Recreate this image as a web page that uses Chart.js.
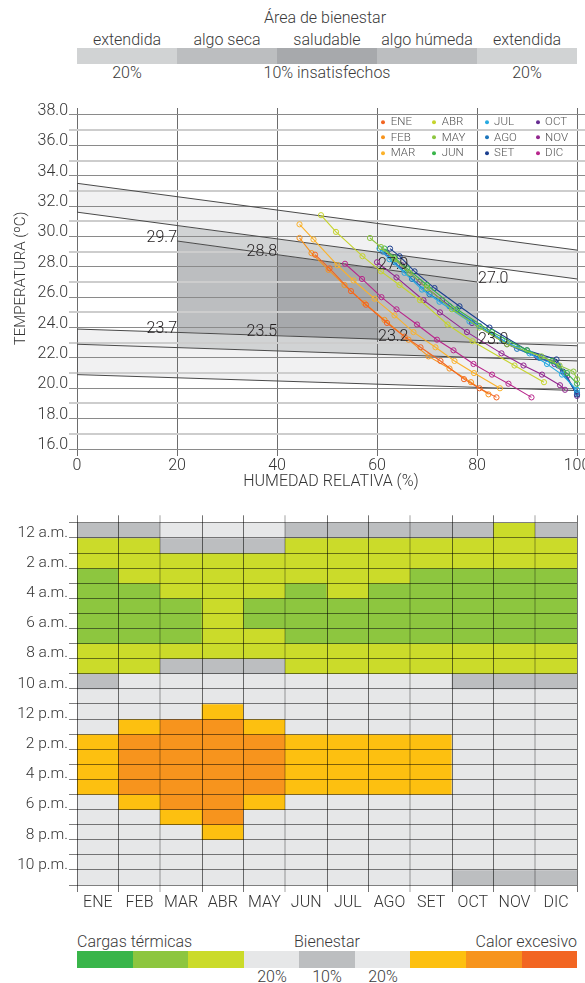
<!DOCTYPE html>
<html lang="es">
<head>
<meta charset="utf-8">
<title>Área de bienestar</title>
<script src="https://cdn.jsdelivr.net/npm/chart.js@4.4.1/dist/chart.umd.min.js"></script>
<style>
  html, body { margin:0; padding:0; background:#fff; }
  body { width:585px; height:983px; overflow:hidden; position:relative;
         font-family: Roboto, 'Liberation Sans', Arial, sans-serif; font-weight:300; color:#3a3a3a; }
  .t { position:absolute; white-space:nowrap; line-height:1; transform:translate(-50%,-50%); font-size:16px; }
  .tl { transform:translate(0,-50%); }
  .tr { transform:translate(-100%,-50%); }
  .bar { position:absolute; display:flex; }
  .bar div { flex:1; height:100%; }
  canvas { position:absolute; left:0; }
  .lg { position:absolute; font-size:11.5px; color:#555; line-height:1; transform:translateY(-50%); white-space:nowrap; }
  .lg i { position:absolute; left:-9.4px; top:50%; width:4px; height:4px; margin-top:-2px; border-radius:50%; }
</style>
</head>
<body>
<!-- Header legend -->
<div class="t" style="left:325px;top:18px">Área de bienestar</div>
<div class="t" style="left:127px;top:40px">extendida</div>
<div class="t" style="left:227px;top:40px">algo seca</div>
<div class="t" style="left:327px;top:40px">saludable</div>
<div class="t" style="left:427px;top:40px">algo húmeda</div>
<div class="t" style="left:527px;top:40px">extendida</div>
<div class="bar" style="left:77px;top:48px;width:500px;height:16px">
  <div style="background:#d1d3d4"></div><div style="background:#bcbec0"></div><div style="background:#a7a9ac"></div><div style="background:#bcbec0"></div><div style="background:#d1d3d4"></div>
</div>
<div class="t" style="left:127px;top:73px">20%</div>
<div class="t" style="left:327px;top:73px">10% insatisfechos</div>
<div class="t" style="left:527px;top:73px">20%</div>

<canvas id="c1" width="600" height="400" style="top:95px"></canvas>
<canvas id="c2" width="585" height="410" style="top:505px"></canvas>

<!-- Bottom legend -->
<div class="t tl" style="left:77px;top:942px">Cargas térmicas</div>
<div class="t" style="left:327px;top:942px">Bienestar</div>
<div class="t tr" style="left:577px;top:942px">Calor excesivo</div>
<div class="bar" style="left:77px;top:951px;width:500px;height:17px">
  <div style="background:#39b54a"></div><div style="background:#8dc63f"></div><div style="background:#cbdb2a"></div><div style="background:#e6e7e8"></div><div style="background:#bcbec0"></div><div style="background:#e6e7e8"></div><div style="background:#fdc010"></div><div style="background:#f7941d"></div><div style="background:#f26522"></div>
</div>
<div class="t" style="left:272px;top:977px">20%</div>
<div class="t" style="left:327px;top:977px">10%</div>
<div class="t" style="left:383px;top:977px">20%</div>

<script>
const FONT = "Roboto, 'Liberation Sans', Arial, sans-serif";

// ---------- shared ----------
const monthNames = ['ENE','FEB','MAR','ABR','MAY','JUN','JUL','AGO','SET','OCT','NOV','DIC'];
const monthColors = ['#f26522','#f7941d','#fbb22a','#c6d42c','#8dc63f','#39b54a','#27aae1','#1c75bc','#1b3f8f','#662d91','#92278f','#b8268c'];

// ---------- chart 1: humidity vs temperature ----------
const humTicks = [0, 20, 40, 60, 80, 100];
const tempTicks = [16,17,18,19,20,21,22,23,24,25,26,27,28,29,30,31,32,33,34,35,36,37,38];

// comfort zone boundaries (RH %, ºC)
const bandX = [0, 100];
const upperBandTop = [33.5, 29.1];
const upperBandBottom = [31.6, 27.2];
const lowerBandA = [23.9, 22.8];
const lowerBandB = [22.9, 21.8];
const lowerBandC = [20.9, 19.85];
const zoneX = [20, 40, 60, 80];
const zoneTop = [29.7, 28.8, 27.9, 27.0];
const zoneBottom = [23.7, 23.5, 23.2, 23.0];
const upperMidEdge = [30.7, 28.1];   // upper band bottom at RH 20 / 80
const lowerMidEdge = [22.7, 22.0];   // lower band B at RH 20 / 80

// hourly (RH %, ºC) points per month
const serENE = [[47.6,28.8],[50.5,27.9],[54.8,26.4],[57.8,25.5],[62,24.3],[65.5,23.4],[68.7,22.7],[72.7,21.8],[77.4,20.6],[80.5,20.0],[83.9,19.4]];
const serFEB = [[44.5,29.9],[46.9,28.9],[50.3,27.8],[53.5,26.8],[57.5,25.6],[61.5,24.5],[66.3,23.2],[70.3,22.1],[74.5,21.3],[78.8,20.4],[82.3,19.6]];
const serMAR = [[44.5,30.8],[47.3,29.8],[52.1,28.1],[55.3,27.1],[59.5,25.9],[63.5,24.8],[67.3,23.7],[71.7,22.7],[75.5,21.8],[79.4,21.0],[84.6,20.0]];
const serABR = [[48.8,31.4],[51.8,30.3],[57.1,28.7],[60.8,27.7],[64.5,26.8],[68.6,25.8],[74.1,24.2],[79.1,23.1],[87.5,21.5],[93.4,20.4]];
const serMAY = [[58.6,29.9],[60.8,29.3],[63.5,28.5],[66.5,27.6],[70,26.6],[75,25.2],[80.5,24.0],[86,22.9],[92.9,22.1],[96.5,21.5],[99.3,21.1],[100,20.6]];
const serJUN = [[61.5,29.2],[63.5,28.6],[66,27.9],[70,26.8],[76,25.2],[83,23.7],[90,22.5],[95,21.8],[98,21.0],[100,20.3]];
const serJUL = [[60.5,29.2],[62.5,28.5],[65.5,27.6],[69,26.5],[72.5,25.7],[78.5,24.4],[85,23.2],[90.5,22.3],[94,21.6],[97,20.9],[100,19.9]];
const serAGO = [[61.2,29.0],[63.5,28.3],[67,27.2],[70.5,26.2],[74.5,25.4],[80.5,24.1],[88,22.6],[92.5,22.0],[96.2,21.5],[100,19.7]];
const serSET = [[62.6,29.2],[64.5,28.7],[67.5,27.7],[71.5,26.6],[76.5,25.4],[82.5,24.0],[90,22.5],[95.9,21.9],[97.2,21.1],[100,19.6]];
const serOCT = [[62,28.9],[65,28.1],[68.5,27.0],[73,25.8],[79,24.3],[86,22.9],[92,22.1],[95.5,21.6],[98,20.8],[100,19.5]];
const serNOV = [[60,28.3],[63.9,27.3],[69.3,25.8],[72.6,25.0],[78,23.7],[84.9,22.3],[89.3,21.5],[93,20.9],[96.6,20.2],[97.6,19.9]];
const serDIC = [[53.6,28.2],[57,27.2],[60.9,26.0],[63.9,25.2],[68,24.2],[72,23.2],[75.3,22.5],[79.3,21.6],[83,20.9],[86.3,20.3],[90.9,19.4]];
const monthSeries = [serENE,serFEB,serMAR,serABR,serMAY,serJUN,serJUL,serAGO,serSET,serOCT,serNOV,serDIC];

// ---------- chart 2: hourly comfort per month ----------
// 0 dark green, 1 green, 2 lime, 3 comfort 20%, 4 comfort 10%, 5 yellow, 6 orange, 7 red-orange
const heatENE = [4,2,2,1,1,1,1,1,2,2,4,3, 3,3,5,5,5,5,3,3,3,3,3,3];
const heatFEB = [4,2,2,2,1,1,1,1,2,2,3,3, 3,5,6,6,6,6,5,3,3,3,3,3];
const heatMAR = [3,4,2,2,2,1,1,1,2,4,3,3, 3,6,6,6,6,6,6,5,3,3,3,3];
const heatABR = [3,4,2,2,2,2,2,2,2,4,3,3, 5,6,6,6,6,6,6,6,5,3,3,3];
const heatMAY = [3,4,2,2,2,1,1,2,2,4,3,3, 3,5,6,6,6,6,5,3,3,3,3,3];
const heatJUN = [4,2,2,2,1,1,1,1,2,2,3,3, 3,3,5,5,5,5,3,3,3,3,3,3];
const heatJUL = [4,2,2,2,2,1,1,1,2,2,3,3, 3,3,5,5,5,5,3,3,3,3,3,3];
const heatAGO = [4,2,2,2,1,1,1,1,2,2,3,3, 3,3,5,5,5,5,3,3,3,3,3,3];
const heatSET = [4,2,2,1,1,1,1,1,2,2,3,3, 3,3,5,5,5,5,3,3,3,3,3,3];
const heatOCT = [4,2,2,1,1,1,1,1,2,2,4,3, 3,3,3,3,3,3,3,3,3,3,3,4];
const heatNOV = [2,2,2,1,1,1,1,1,2,2,4,3, 3,3,3,3,3,3,3,3,3,3,3,4];
const heatDIC = [4,2,2,1,1,1,1,1,2,2,4,3, 3,3,3,3,3,3,3,3,3,3,3,4];
const heatByMonth = [heatENE,heatFEB,heatMAR,heatABR,heatMAY,heatJUN,heatJUL,heatAGO,heatSET,heatOCT,heatNOV,heatDIC];
const hourBoundaries = [0,1,2,3,4,5,6,7,8,9,10,11,12,13,14,15,16,17,18,19,20,21,22,23,24];
const hourLabels = ['12 a.m.','2 a.m.','4 a.m.','6 a.m.','8 a.m.','10 a.m.','12 p.m.','2 p.m.','4 p.m.','6 p.m.','8 p.m.','10 p.m.'];
const catColors = ['#39b54a','#8dc63f','#cbdb2a','#e6e7e8','#bcbec0','#fdc010','#f7941d','#f26522'];

// ---------- in-chart legend (HTML) ----------
const legendCols = [390.7, 441.7, 494.1, 545.1];
const legendRows = [122.3, 137.7, 153];
monthNames.forEach((m, i) => {
  const d = document.createElement('div');
  d.className = 'lg';
  d.style.left = legendCols[Math.floor(i / 3)] + 'px';
  d.style.top = legendRows[i % 3] + 'px';
  d.innerHTML = '<i style="background:' + monthColors[i] + '"></i>' + m;
  document.body.appendChild(d);
});

// ---------- build chart 1 ----------
function pts(xs, ts) { return xs.map((x, i) => ({x: x, y: ts[i]})); }
function zonePoly(xs, ts, color) {
  return { data: pts(xs, ts), showLine: true, fill: 'shape', backgroundColor: color,
           borderColor: 'rgba(0,0,0,0)', borderWidth: 0, pointRadius: 0, order: 20 };
}
function zoneLine(xs, ts) {
  return { data: pts(xs, ts), showLine: true, fill: false, borderColor: '#4a4a4a',
           borderWidth: 1, pointRadius: 0, order: 10 };
}
const LIGHT = '#f1f1f2', MED = '#d1d3d4', BOX = '#bcbec0', CORE = '#a7a9ac';
const zoneDatasets = [
  zonePoly([0,100,100,0], [upperBandTop[0], upperBandTop[1], upperBandBottom[1], upperBandBottom[0]], LIGHT),
  zonePoly([20,80,80,60,40,20], [upperMidEdge[0], upperMidEdge[1], zoneTop[3], zoneTop[2], zoneTop[1], zoneTop[0]], MED),
  zonePoly([20,40,40,20], [zoneTop[0], zoneTop[1], zoneBottom[1], zoneBottom[0]], BOX),
  zonePoly([40,60,60,40], [zoneTop[1], zoneTop[2], zoneBottom[2], zoneBottom[1]], CORE),
  zonePoly([60,80,80,60], [zoneTop[2], zoneTop[3], zoneBottom[3], zoneBottom[2]], BOX),
  zonePoly([20,40,60,80,80,20], [zoneBottom[0], zoneBottom[1], zoneBottom[2], zoneBottom[3], lowerMidEdge[1], lowerMidEdge[0]], MED),
  zonePoly([0,20,20,80,80,100,100,0], [lowerBandA[0], zoneBottom[0], lowerMidEdge[0], lowerMidEdge[1], zoneBottom[3], lowerBandA[1], lowerBandC[1], lowerBandC[0]], LIGHT),
  zoneLine(bandX, upperBandTop),
  zoneLine(bandX, upperBandBottom),
  zoneLine(zoneX, zoneTop),
  zoneLine(bandX, lowerBandA),
  zoneLine(bandX, lowerBandB),
  zoneLine(bandX, lowerBandC),
  zoneLine([0,0], [upperBandBottom[0], upperBandTop[0]]),
  zoneLine([0,0], [lowerBandC[0], lowerBandA[0]])
];
const monthDatasets = monthNames.map((m, i) => ({
  label: m,
  data: monthSeries[i].map(p => ({x: p[0], y: p[1]})),
  showLine: true, fill: false,
  borderColor: monthColors[i], borderWidth: 1.1,
  pointRadius: 2.6, pointBorderWidth: 1, pointBorderColor: monthColors[i],
  pointBackgroundColor: 'rgba(255,255,255,0)', order: 0
}));

const zoneLabelPlugin = {
  id: 'zoneLabels',
  afterDatasetsDraw(chart) {
    const {ctx, scales: {x, y}} = chart;
    ctx.save();
    ctx.font = '300 16px ' + FONT;
    ctx.fillStyle = '#231f20';
    ctx.textBaseline = 'alphabetic';
    zoneX.forEach((xv, i) => {
      [zoneTop[i], zoneBottom[i]].forEach(tv => {
        const px = x.getPixelForValue(xv), py = y.getPixelForValue(tv);
        const after = xv > 50;
        ctx.textAlign = after ? 'left' : 'right';
        ctx.fillText(tv.toFixed(1), px + (after ? 1 : 0), py + 1);
      });
    });
    ctx.restore();
  }
};

new Chart(document.getElementById('c1'), {
  type: 'scatter',
  data: { datasets: monthDatasets.concat(zoneDatasets) },
  plugins: [zoneLabelPlugin],
  options: {
    responsive: false, animation: false, events: [],
    layout: { padding: { top: 13, right: 15, bottom: 0, left: 0 } },
    plugins: { legend: { display: false }, tooltip: { enabled: false }, filler: { drawTime: 'beforeDraw' } },
    scales: {
      x: {
        type: 'linear', min: 0, max: 101.6,
        afterBuildTicks: s => { s.ticks = humTicks.map(v => ({value: v})); },
        afterFit: s => { s.height = 46; },
        border: { display: false },
        grid: { color: '#6d6d6d', lineWidth: 1, tickLength: 7 },
        ticks: { autoSkip: false, maxRotation: 0, padding: 0, color: '#333',
                 font: { family: FONT, size: 16, weight: '300' } },
        title: { display: true, text: 'HUMEDAD RELATIVA (%)', color: '#333',
                 font: { family: FONT, size: 16, weight: '300' }, padding: { top: 0, bottom: 3 } }
      },
      y: {
        type: 'linear', min: 16, max: 38.46,
        afterBuildTicks: s => { s.ticks = tempTicks.map(v => ({value: v})); },
        afterFit: s => { s.width = 77; },
        border: { display: false },
        grid: {
          color: c => (c.tick && c.tick.value % 2 === 0) ? '#8a8a8a' : '#cdcdcd',
          tickColor: c => (c.tick && c.tick.value % 2 === 0) ? '#8a8a8a' : '#cdcdcd',
          lineWidth: c => (c.tick && c.tick.value % 2 === 0) ? 1 : 2,
          tickLength: 8
        },
        ticks: { autoSkip: false, padding: 1, labelOffset: -4, color: '#333',
                 font: { family: FONT, size: 16, weight: '300' },
                 callback: v => (v % 2 === 0 ? v.toFixed(1) : '') },
        title: { display: true, text: 'TEMPERATURA (ºC)', color: '#333',
                 font: { family: FONT, size: 15, weight: '300' }, padding: { top: 12, bottom: 0 } }
      }
    }
  }
});

// ---------- build chart 2 ----------
const heatDatasets = hourBoundaries.slice(0, 24).map(h => ({
  data: monthNames.map(() => 1),
  backgroundColor: heatByMonth.map(col => catColors[col[h]]),
  borderWidth: 0, barPercentage: 1, categoryPercentage: 1
}));

new Chart(document.getElementById('c2'), {
  type: 'bar',
  data: { labels: monthNames, datasets: heatDatasets },
  options: {
    responsive: false, animation: false, events: [],
    layout: { padding: { top: 9.1, right: 8, bottom: 0, left: 0 } },
    plugins: { legend: { display: false }, tooltip: { enabled: false } },
    scales: {
      x: {
        stacked: true, offset: true,
        afterFit: s => { s.height = 30; },
        border: { display: false },
        grid: {
          z: 1, offset: true, tickLength: 7,
          color: c => (c.index % 3 === 2) ? 'rgba(0,0,0,0.18)' : 'rgba(0,0,0,0.55)',
          tickColor: c => (c.index % 3 === 2) ? 'rgba(0,0,0,0.18)' : 'rgba(0,0,0,0.55)',
          lineWidth: c => (c.index % 3 === 2) ? 2 : 1
        },
        ticks: { padding: 1, color: '#333', maxRotation: 0, autoSkip: false,
                 font: { family: FONT, size: 16, weight: '300' } }
      },
      y: {
        type: 'linear', stacked: true, reverse: true, min: -0.5, max: 24,
        afterBuildTicks: s => { s.ticks = hourBoundaries.map(v => ({value: v})); },
        afterFit: s => { s.width = 77; },
        border: { display: false },
        grid: { z: 1, color: 'rgba(0,0,0,0.5)', tickColor: 'rgba(0,0,0,0.5)', lineWidth: 1, tickLength: 8 },
        ticks: { autoSkip: false, padding: 1, labelOffset: 10, color: '#333',
                 font: { family: FONT, size: 15.5, weight: '300' },
                 callback: v => (v % 2 === 0 && v < 24 ? hourLabels[v / 2] : '') }
      }
    }
  }
});
</script>
</body>
</html>
